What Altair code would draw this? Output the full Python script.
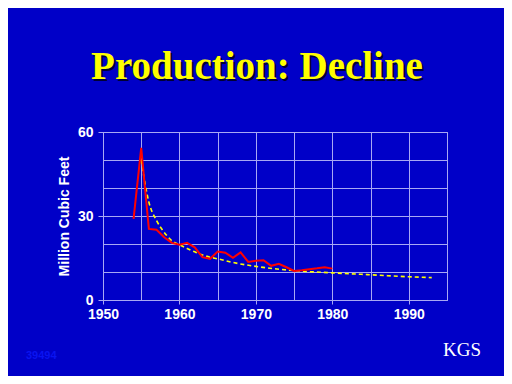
import altair as alt
import pandas as pd

# Actual production (red line)
years_actual = list(range(1954, 1981))
production = [29.0, 54.3, 25.4, 25.1, 22.4, 20.4, 19.7, 20.4, 18.8, 15.3, 14.7,
              17.3, 16.9, 15.1, 17.0, 13.6, 14.0, 14.2, 12.2, 12.9, 11.7, 10.4,
              10.6, 11.0, 11.3, 11.7, 11.2]

# Decline curve (yellow dashed)
years_trend = [1955, 1956, 1957, 1958, 1959, 1960, 1961, 1962, 1963, 1964, 1965,
               1967, 1970, 1975, 1980, 1985, 1990, 1993]
trend = [50.0, 35.0, 28.4, 24.2, 21.2, 19.7, 18.4, 17.2, 16.1, 15.3, 14.7,
         13.4, 12.0, 10.5, 9.7, 9.0, 8.3, 8.0]

x_ticks = [1950, 1955, 1960, 1965, 1970, 1975, 1980, 1985, 1990, 1995]
y_ticks = [0, 10, 20, 30, 40, 50, 60]

title_text = "Production: Decline"
y_title = "Million Cubic Feet"
footer_left = "39494"
logo_text = "KGS"

BG = "#0000C8"
GRID = "#A8A8F4"

df_a = pd.DataFrame({"year": years_actual, "value": production})
df_t = pd.DataFrame({"year": years_trend, "value": trend})

x_scale = alt.Scale(domain=[1950, 1995], nice=False, zero=False)
y_scale = alt.Scale(domain=[0, 60], nice=False)

x_axis = alt.Axis(values=x_ticks, grid=True, gridColor=GRID, gridWidth=1,
                  domainColor=GRID, tickColor=GRID, tickSize=4,
                  tickOpacity={"condition": {"test": "datum.value % 10 == 0", "value": 1}, "value": 0},
                  labelExpr="datum.value % 10 == 0 ? '' + datum.value : ''",
                  labelFlush=False, labelOverlap=False,
                  labelColor="white", labelFont="Liberation Sans", labelFontSize=14,
                  labelFontWeight="bold", labelPadding=3, title=None)
y_axis = alt.Axis(values=y_ticks, grid=True, gridColor=GRID, gridWidth=1,
                  domainColor=GRID, tickColor=GRID, tickSize=5,
                  tickOpacity={"condition": {"test": "datum.value % 30 == 0", "value": 1}, "value": 0},
                  labelExpr="datum.value % 30 == 0 ? '' + datum.value : ''",
                  labelFlush=False, labelOverlap=False,
                  labelColor="white", labelFont="Liberation Sans", labelFontSize=14,
                  labelFontWeight="bold", labelPadding=5,
                  title=y_title, titleColor="white", titleFont="Liberation Sans",
                  titleFontSize=14, titleFontWeight="bold", titlePadding=6)

trend_line = alt.Chart(df_t).mark_line(color="#FFFF00", strokeWidth=1.6,
                                        strokeDash=[4, 3], interpolate="monotone").encode(
    x=alt.X("year:Q", scale=x_scale, axis=x_axis),
    y=alt.Y("value:Q", scale=y_scale, axis=y_axis),
)
actual_line = alt.Chart(df_a).mark_line(color="#FF0000", strokeWidth=2).encode(
    x=alt.X("year:Q", scale=x_scale, axis=x_axis),
    y=alt.Y("value:Q", scale=y_scale, axis=y_axis),
)

one = pd.DataFrame({"t": [title_text]})
title_shadow = alt.Chart(one).mark_text(font="Liberation Serif", fontSize=39,
                                        fontWeight="bold", color="#000033",
                                        baseline="alphabetic", align="center").encode(
    text="t:N", x=alt.value(156), y=alt.value(-51))
title_main = alt.Chart(one).mark_text(font="Liberation Serif", fontSize=39,
                                      fontWeight="bold", color="#FFFF00",
                                      baseline="alphabetic", align="center").encode(
    text="t:N", x=alt.value(154), y=alt.value(-53))

foot = pd.DataFrame({"t": [footer_left]})
footer = alt.Chart(foot).mark_text(font="Liberation Sans", fontSize=11,
                                   fontWeight="bold", color="#0A14F0",
                                   baseline="middle", align="left").encode(
    text="t:N", x=alt.value(-77), y=alt.value(224))

logo = pd.DataFrame({"t": [logo_text]})
logo_mark = alt.Chart(logo).mark_text(font="Liberation Serif", fontSize=19,
                                      color="white", baseline="alphabetic",
                                      align="left").encode(
    text="t:N", x=alt.value(340), y=alt.value(224))

chart = alt.layer(trend_line, actual_line, title_shadow, title_main, footer, logo_mark).properties(
    width=344, height=168,
    background=BG,
    padding={"left": 95, "top": 124, "right": 57, "bottom": 76},
    autosize=alt.AutoSizeParams(type="none"),
).configure_view(stroke=GRID, strokeWidth=1)

chart.save("out.html", embed_options={"renderer": "svg", "actions": False})
